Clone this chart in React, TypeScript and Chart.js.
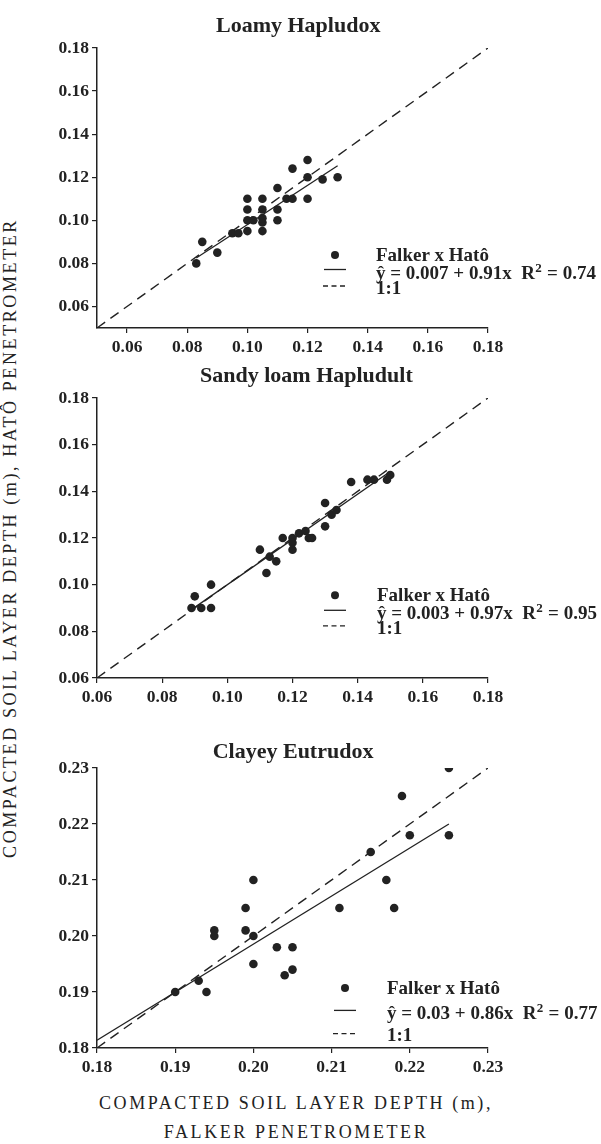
import React, { useEffect, useRef } from "react";
import { Chart, registerables } from "chart.js";

Chart.register(...registerables);

const FONT = "'Liberation Serif', 'Times New Roman', serif";
const INK = "#222";

// ---------------- Data ----------------
// Panel 1 : Loamy Hapludox
const P1_TITLE = "Loamy Hapludox";
const P1_X = [0.083, 0.085, 0.090, 0.095, 0.097, 0.100, 0.100, 0.100, 0.100, 0.102, 0.105, 0.105, 0.105, 0.105, 0.105, 0.110, 0.110, 0.110, 0.113, 0.115, 0.115, 0.120, 0.120, 0.120, 0.125, 0.130];
const P1_Y = [0.080, 0.090, 0.085, 0.094, 0.094, 0.095, 0.100, 0.105, 0.110, 0.100, 0.095, 0.099, 0.101, 0.105, 0.110, 0.100, 0.105, 0.115, 0.110, 0.110, 0.124, 0.110, 0.120, 0.128, 0.119, 0.120];
const P1_REG_X = [0.083, 0.13];
const P1_REG_Y = [0.0825, 0.1253];
const P1_LINE11 = [0.05, 0.18];
const P1_RANGE = [0.05, 0.18];
const P1_TICKS = [0.06, 0.08, 0.10, 0.12, 0.14, 0.16, 0.18];
const P1_LEGEND = ["Falker x Hatô", "ŷ = 0.007 + 0.91x  R² = 0.74", "1:1"];

// Panel 2 : Sandy loam Hapludult
const P2_TITLE = "Sandy loam Hapludult";
const P2_X = [0.089, 0.090, 0.092, 0.095, 0.095, 0.110, 0.112, 0.113, 0.115, 0.117, 0.120, 0.120, 0.120, 0.122, 0.124, 0.125, 0.126, 0.130, 0.130, 0.132, 0.1335, 0.138, 0.143, 0.145, 0.149, 0.150];
const P2_Y = [0.090, 0.095, 0.090, 0.100, 0.090, 0.115, 0.105, 0.112, 0.110, 0.120, 0.120, 0.118, 0.115, 0.122, 0.123, 0.120, 0.120, 0.135, 0.125, 0.130, 0.132, 0.144, 0.145, 0.145, 0.145, 0.147];
const P2_REG_X = [0.089, 0.15];
const P2_REG_Y = [0.0893, 0.1485];
const P2_LINE11 = [0.06, 0.18];
const P2_RANGE = [0.06, 0.18];
const P2_TICKS = [0.06, 0.08, 0.10, 0.12, 0.14, 0.16, 0.18];
const P2_LEGEND = ["Falker x Hatô", "ŷ = 0.003 + 0.97x  R² = 0.95", "1:1"];

// Panel 3 : Clayey Eutrudox
const P3_TITLE = "Clayey Eutrudox";
const P3_X = [0.190, 0.193, 0.194, 0.195, 0.195, 0.199, 0.199, 0.200, 0.200, 0.200, 0.203, 0.204, 0.205, 0.205, 0.211, 0.215, 0.217, 0.218, 0.219, 0.220, 0.225, 0.225];
const P3_Y = [0.190, 0.192, 0.190, 0.201, 0.200, 0.205, 0.201, 0.200, 0.195, 0.210, 0.198, 0.193, 0.198, 0.194, 0.205, 0.215, 0.210, 0.205, 0.225, 0.218, 0.230, 0.218];
const P3_REG_X = [0.18, 0.225];
const P3_REG_Y = [0.1814, 0.22];
const P3_LINE11 = [0.18, 0.23];
const P3_RANGE = [0.18, 0.23];
const P3_TICKS = [0.18, 0.19, 0.20, 0.21, 0.22, 0.23];
const P3_LEGEND = ["Falker x Hatô", "ŷ = 0.03 + 0.86x  R² = 0.77", "1:1"];

const Y_TITLE = "COMPACTED SOIL LAYER DEPTH (m), HATÔ PENETROMETER";
const X_TITLE_1 = "COMPACTED SOIL LAYER DEPTH (m),";
const X_TITLE_2 = "FALKER PENETROMETER";

// ---------------- Layout ----------------
const CANVAS_LEFT = 30;
const CANVAS_W = 571;
const PAD_TOP = 20;
const PLOT_H = 280;
const X_AXIS_H = 40;
const Y_AXIS_W = 67; // chart area left at page x 97
const PAD_RIGHT = 113; // chart area right at page x 488

type PanelDef = {
  title: string;
  titleLeft: number;
  titleBaseline: number;
  plotTop: number;
  xs: number[];
  ys: number[];
  regX: number[];
  regY: number[];
  line11: number[];
  range: number[];
  ticks: number[];
  legend: string[];
  lg: { dotX: number; dotY: number; solidY: number; dashY: number; textX: number; base: number[] };
};

const PANELS: PanelDef[] = [
  {
    title: P1_TITLE, titleLeft: 216, titleBaseline: 32.7, plotTop: 48,
    xs: P1_X, ys: P1_Y, regX: P1_REG_X, regY: P1_REG_Y, line11: P1_LINE11, range: P1_RANGE, ticks: P1_TICKS, legend: P1_LEGEND,
    lg: { dotX: 335, dotY: 255, solidY: 269.5, dashY: 286, textX: 376, base: [260.5, 278.5, 293.5] },
  },
  {
    title: P2_TITLE, titleLeft: 200, titleBaseline: 382.7, plotTop: 397.7,
    xs: P2_X, ys: P2_Y, regX: P2_REG_X, regY: P2_REG_Y, line11: P2_LINE11, range: P2_RANGE, ticks: P2_TICKS, legend: P2_LEGEND,
    lg: { dotX: 335, dotY: 595, solidY: 610, dashY: 625.6, textX: 377, base: [600.5, 618.5, 633.5] },
  },
  {
    title: P3_TITLE, titleLeft: 212.7, titleBaseline: 758.3, plotTop: 768.3,
    xs: P3_X, ys: P3_Y, regX: P3_REG_X, regY: P3_REG_Y, line11: P3_LINE11, range: P3_RANGE, ticks: P3_TICKS, legend: P3_LEGEND,
    lg: { dotX: 345, dotY: 988.3, solidY: 1010.7, dashY: 1034, textX: 387, base: [994.6, 1019.6, 1041.3] },
  },
];

const LEGEND_FONT = `bold 19px ${FONT}`;
const SUP_FONT = `bold 13px ${FONT}`;

const legendPlugin = {
  id: "customLegend",
  afterDraw(chart: any, _args: any, opts: any) {
    const { ctx } = chart;
    const ox = opts.ox, oy = opts.oy;
    const lg = opts.lg;
    const labels: string[] = opts.labels;
    ctx.save();
    ctx.fillStyle = INK;
    ctx.strokeStyle = INK;
    // dot
    ctx.beginPath();
    ctx.arc(lg.dotX - ox, lg.dotY - oy, 4, 0, Math.PI * 2);
    ctx.fill();
    // solid
    ctx.lineWidth = 1.3;
    ctx.setLineDash([]);
    ctx.beginPath();
    ctx.moveTo(lg.dotX - 11 - ox, lg.solidY - oy);
    ctx.lineTo(lg.dotX + 11 - ox, lg.solidY - oy);
    ctx.stroke();
    // dashed
    ctx.setLineDash([5, 3.5]);
    ctx.beginPath();
    ctx.moveTo(lg.dotX - 12 - ox, lg.dashY - oy);
    ctx.lineTo(lg.dotX + 12 - ox, lg.dashY - oy);
    ctx.stroke();
    ctx.setLineDash([]);
    // text (with a raised "2" for R²)
    ctx.textAlign = "left";
    ctx.textBaseline = "alphabetic";
    labels.forEach((t, i) => {
      const y = lg.base[i] - oy;
      let x = lg.textX - ox;
      const parts = t.split("²");
      parts.forEach((part, j) => {
        ctx.font = LEGEND_FONT;
        ctx.fillText(part, x, y);
        x += ctx.measureText(part).width;
        if (j < parts.length - 1) {
          ctx.font = SUP_FONT;
          ctx.fillText("2", x + 0.5, y - 7);
          x += ctx.measureText("2").width + 1;
        }
      });
    });
    ctx.restore();
  },
};

function Panel({ p }: { p: PanelDef }) {
  const ref = useRef<HTMLCanvasElement | null>(null);
  const canvasTop = p.plotTop - PAD_TOP;
  const canvasH = PAD_TOP + PLOT_H + X_AXIS_H;

  useEffect(() => {
    if (!ref.current) return;
    const tickFont = { family: FONT, size: 17.5, weight: "bold" as const };
    const axisCommon = (isX: boolean) => ({
      type: "linear" as const,
      min: p.range[0],
      max: p.range[1],
      afterBuildTicks: (axis: any) => {
        axis.ticks = p.ticks.map((v) => ({ value: v }));
      },
      afterFit: (axis: any) => {
        if (isX) axis.height = X_AXIS_H;
        else axis.width = Y_AXIS_W;
      },
      ticks: {
        color: INK,
        font: tickFont,
        padding: isX ? 4 : 3,
        autoSkip: false,
        maxRotation: 0,
        callback: (v: any) => Number(v).toFixed(2),
      },
      grid: {
        display: true,
        drawOnChartArea: false,
        drawTicks: true,
        tickLength: 5,
        color: INK,
        tickColor: INK,
        lineWidth: 1.2,
      },
      border: { display: true, color: INK, width: 1.5 },
      title: { display: false },
    });

    const chart = new Chart(ref.current, {
      type: "scatter",
      data: {
        datasets: [
          {
            label: p.legend[0],
            data: p.xs.map((x, i) => ({ x, y: p.ys[i] })),
            pointRadius: 4.3,
            pointBackgroundColor: INK,
            pointBorderWidth: 0,
            showLine: false,
          },
          {
            label: p.legend[1],
            data: p.regX.map((x, i) => ({ x, y: p.regY[i] })),
            showLine: true,
            pointRadius: 0,
            borderColor: INK,
            borderWidth: 1.3,
            fill: false,
          },
          {
            label: p.legend[2],
            data: p.line11.map((v) => ({ x: v, y: v })),
            showLine: true,
            pointRadius: 0,
            borderColor: INK,
            borderWidth: 1.4,
            borderDash: [10, 6.5],
            fill: false,
          },
        ],
      },
      options: {
        responsive: false,
        animation: false,
        layout: { padding: { top: PAD_TOP, right: PAD_RIGHT, bottom: 0, left: 0 } },
        scales: {
          x: { ...axisCommon(true), position: "bottom" },
          y: { ...axisCommon(false), position: "left" },
        },
        plugins: {
          legend: { display: false },
          tooltip: { enabled: false },
          title: { display: false },
          customLegend: { ox: CANVAS_LEFT, oy: canvasTop, lg: p.lg, labels: p.legend },
        } as any,
      },
      plugins: [legendPlugin],
    } as any);
    return () => chart.destroy();
  }, []);

  return (
    <>
      <canvas
        ref={ref}
        width={CANVAS_W}
        height={canvasH}
        style={{ position: "absolute", left: CANVAS_LEFT, top: canvasTop, width: CANVAS_W, height: canvasH }}
      />
      <div
        style={{
          position: "absolute",
          left: p.titleLeft,
          top: p.titleBaseline - 18.4,
          fontFamily: FONT,
          fontWeight: "bold",
          fontSize: 22,
          lineHeight: "22px",
          color: INK,
          whiteSpace: "nowrap",
        }}
      >
        {p.title}
      </div>
    </>
  );
}

export default function App() {
  const titleStyle: React.CSSProperties = {
    position: "absolute",
    fontFamily: FONT,
    fontSize: 18,
    lineHeight: "18px",
    letterSpacing: "2.6px",
    color: INK,
    whiteSpace: "nowrap",
    textAlign: "center",
  };
  return (
    <div
      style={{
        position: "absolute",
        left: 0,
        top: 0,
        width: 601,
        height: 1144,
        overflow: "hidden",
        background: "#fff",
      }}
    >
      {PANELS.map((p, i) => (
        <Panel key={i} p={p} />
      ))}
      <div
        style={{
          ...titleStyle,
          left: 10 - 350,
          top: 538 - 9,
          width: 700,
          height: 18,
          transform: "rotate(-90deg)",
          transformOrigin: "50% 50%",
        }}
      >
        {Y_TITLE}
      </div>
      <div style={{ ...titleStyle, left: 0, width: 592, top: 1094.2 }}>{X_TITLE_1}</div>
      <div style={{ ...titleStyle, left: 0, width: 592, top: 1123.2 }}>{X_TITLE_2}</div>
    </div>
  );
}
